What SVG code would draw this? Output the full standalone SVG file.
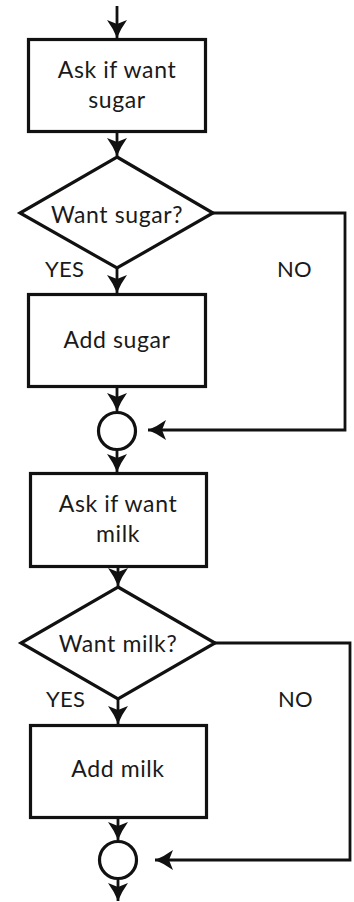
<svg xmlns="http://www.w3.org/2000/svg" width="354" height="902" viewBox="0 0 354 902">
  <style>
    .shape { fill: #fff; stroke: #111; stroke-width: 3.2; }
    .wire { fill: none; stroke: #111; stroke-width: 2.8; stroke-linejoin: miter; }
    .label { font-family: Lato, "Liberation Sans", sans-serif; font-size: 23px; letter-spacing: 0.6px; fill: #1a1a1a; text-anchor: middle; }
    .tag { font-family: Lato, "Liberation Sans", sans-serif; font-size: 22px; letter-spacing: 0.3px; fill: #1a1a1a; }
  </style>
  <defs>
    <marker id="head" markerUnits="userSpaceOnUse" markerWidth="22" markerHeight="22" viewBox="-20 -11 22 22" refX="0" refY="0" orient="auto">
      <path d="M0,0 Q-9,-3.5 -18,-10 L-14,0 L-18,10 Q-9,3.5 0,0 Z" fill="#111"/>
    </marker>
  </defs>

  <rect width="354" height="902" fill="#fff"/>

  <!-- connectors -->
  <g id="connectors">
    <path class="wire" d="M117,6 V38" marker-end="url(#head)"/>
    <path class="wire" d="M117,132 V156" marker-end="url(#head)"/>
    <path class="wire" d="M117,268 V293" marker-end="url(#head)"/>
    <path class="wire" d="M117,387 V411" marker-end="url(#head)"/>
    <path class="wire" d="M213,213 H345 V430 H148" marker-end="url(#head)"/>
    <path class="wire" d="M117,450 V472" marker-end="url(#head)"/>
    <path class="wire" d="M118,567 V586" marker-end="url(#head)"/>
    <path class="wire" d="M118,699 V724" marker-end="url(#head)"/>
    <path class="wire" d="M118,818 V840" marker-end="url(#head)"/>
    <path class="wire" d="M215,643 H350 V860 H155" marker-end="url(#head)"/>
    <path class="wire" d="M118,880 V901" marker-end="url(#head)"/>
  </g>

  <g id="ask-sugar">
    <rect class="shape" x="28.5" y="39.5" width="177" height="92"/>
    <text class="label" x="117" y="78">Ask if want</text>
    <text class="label" x="117" y="108">sugar</text>
  </g>

  <g id="want-sugar">
    <polygon class="shape" points="117,157 213,213 117,268 20,213"/>
    <text class="label" x="117" y="223">Want sugar?</text>
  </g>

  <g id="sugar-branch-labels">
    <text class="tag" x="45" y="277">YES</text>
    <text class="tag" x="277" y="277">NO</text>
  </g>

  <g id="add-sugar">
    <rect class="shape" x="28.5" y="294.5" width="177" height="92"/>
    <text class="label" x="117" y="348">Add sugar</text>
  </g>

  <g id="join-sugar">
    <circle class="shape" cx="117" cy="431" r="18.5"/>
  </g>

  <g id="ask-milk">
    <rect class="shape" x="30.5" y="473.5" width="176" height="93"/>
    <text class="label" x="118" y="512">Ask if want</text>
    <text class="label" x="118" y="542">milk</text>
  </g>

  <g id="want-milk">
    <polygon class="shape" points="118,587 215,643 118,699 21,643"/>
    <text class="label" x="118" y="652">Want milk?</text>
  </g>

  <g id="milk-branch-labels">
    <text class="tag" x="46" y="707">YES</text>
    <text class="tag" x="278" y="707">NO</text>
  </g>

  <g id="add-milk">
    <rect class="shape" x="30.5" y="725.5" width="176" height="92"/>
    <text class="label" x="118" y="777">Add milk</text>
  </g>

  <g id="join-milk">
    <circle class="shape" cx="118" cy="860" r="18.5"/>
  </g>
</svg>
